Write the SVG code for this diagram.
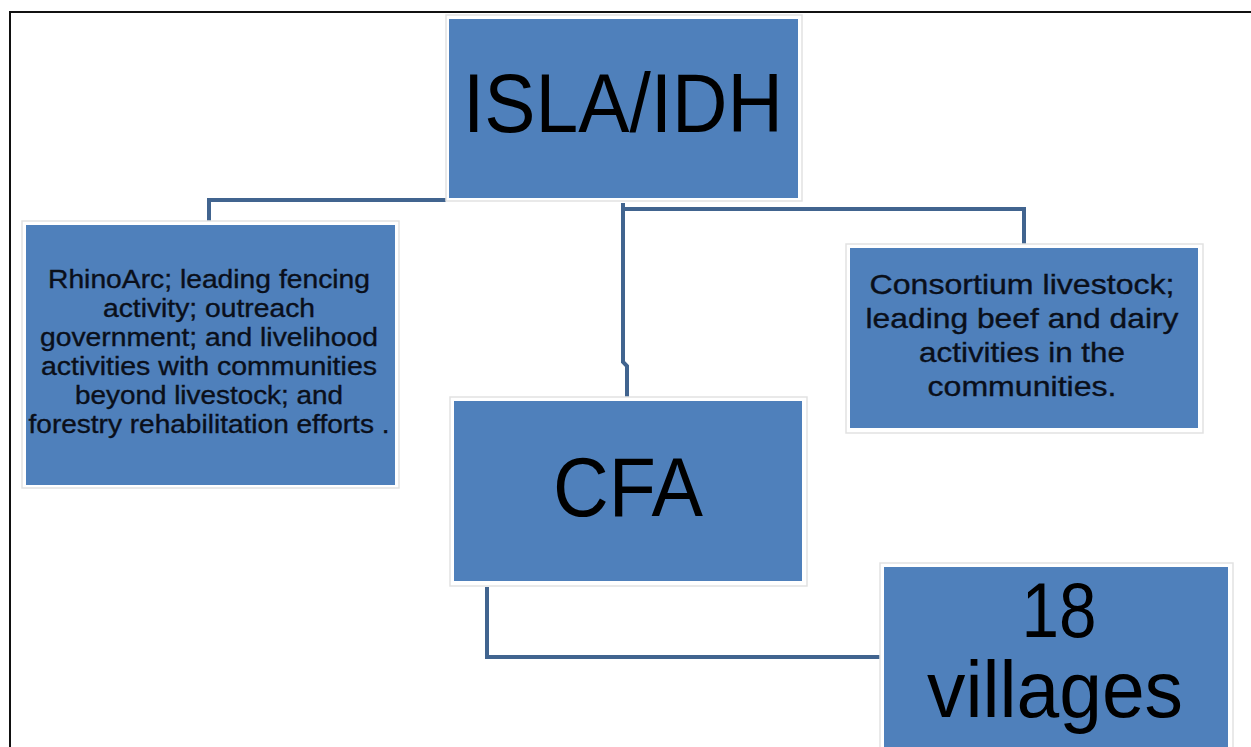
<svg xmlns="http://www.w3.org/2000/svg" width="1251" height="747" viewBox="0 0 1251 747">
<style>
.frame{fill:none;stroke:#111;stroke-width:2}
.conn{fill:none;stroke:#41648f;stroke-width:4;stroke-linejoin:miter}
.outer{fill:#ffffff;stroke:#e2e2e2;stroke-width:1.5}
.box{fill:#4f80bb}
.t{font-family:"Liberation Sans",Arial,sans-serif;fill:#000;text-anchor:middle}
.s{font-family:"Liberation Sans",Arial,sans-serif;fill:#0a0f1a;stroke:#0a0f1a;stroke-width:0.35;text-anchor:middle}
</style>
<rect width="1251" height="747" fill="#ffffff"/>
<path class="frame" d="M10,747 V12 H1251"/>
<g id="connectors">
<path class="conn" d="M446,200 H209 V222"/>
<path class="conn" d="M623,203 V362 L627,366 V398"/>
<path class="conn" d="M623,209 H1024 V245"/>
<path class="conn" d="M487,587 V657 H881"/>
</g>
<g id="isla">
<rect class="outer" x="446" y="15" width="356" height="186"/>
<rect class="box" x="449" y="19" width="349" height="179"/>
<text class="t" x="623" y="132" font-size="83" textLength="320" lengthAdjust="spacingAndGlyphs">ISLA/IDH</text>
</g>
<g id="rhinoarc">
<rect class="outer" x="22" y="221" width="377" height="267"/>
<rect class="box" x="26" y="225" width="369" height="260"/>
<g class="s" font-size="25.5">
<text x="209" y="288" textLength="322" lengthAdjust="spacingAndGlyphs">RhinoArc; leading fencing</text>
<text x="209" y="317" textLength="212" lengthAdjust="spacingAndGlyphs">activity; outreach</text>
<text x="209" y="346" textLength="338" lengthAdjust="spacingAndGlyphs">government; and livelihood</text>
<text x="209" y="375" textLength="336" lengthAdjust="spacingAndGlyphs">activities with communities</text>
<text x="209" y="404" textLength="268" lengthAdjust="spacingAndGlyphs">beyond livestock; and</text>
<text x="209" y="433" textLength="361" lengthAdjust="spacingAndGlyphs">forestry rehabilitation efforts .</text>
</g>
</g>
<g id="consortium">
<rect class="outer" x="846" y="244" width="357" height="189"/>
<rect class="box" x="850" y="248" width="348" height="180"/>
<g class="s" font-size="28">
<text x="1022" y="294" textLength="305" lengthAdjust="spacingAndGlyphs">Consortium livestock;</text>
<text x="1022" y="328" textLength="313" lengthAdjust="spacingAndGlyphs">leading beef and dairy</text>
<text x="1022" y="362" textLength="206" lengthAdjust="spacingAndGlyphs">activities in the</text>
<text x="1022" y="396" textLength="189" lengthAdjust="spacingAndGlyphs">communities.</text>
</g>
</g>
<g id="cfa">
<rect class="outer" x="450" y="397" width="357" height="189"/>
<rect class="box" x="454" y="401" width="348" height="180"/>
<text class="t" x="628" y="516" font-size="83" textLength="150" lengthAdjust="spacingAndGlyphs">CFA</text>
</g>
<g id="villages">
<rect class="outer" x="880" y="563" width="353" height="190"/>
<rect class="box" x="884" y="567" width="344" height="185"/>
<text class="t" x="1059" y="637" font-size="77" textLength="75" lengthAdjust="spacingAndGlyphs">18</text>
<text class="t" x="1055" y="717" font-size="80" textLength="256" lengthAdjust="spacingAndGlyphs">villages</text>
</g>
</svg>
